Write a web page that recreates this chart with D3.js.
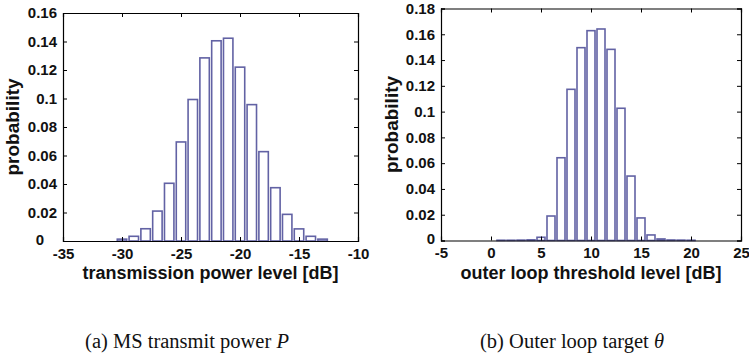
<!DOCTYPE html>
<html>
<head>
<meta charset="utf-8">
<script src="https://cdn.jsdelivr.net/npm/d3@7"></script>
<style>
body { margin: 0; background: #fff; }
svg text { fill: #111; }
</style>
</head>
<body>
<svg id="fig" width="749" height="355"></svg>
<script>
// left panel: transmission power level [dB]
var powerLevels = [-30,-29,-28,-27,-26,-25,-24,-23,-22,-21,-20,-19,-18,-17,-16,-15,-14,-13];
var powerProb = [0.0013,0.0033,0.0086,0.021,0.0405,0.0695,0.0993,0.1285,0.1405,0.1423,0.1220,0.0957,0.0627,0.0374,0.0187,0.0085,0.0033,0.0013];
var powerXTicks = [-35,-30,-25,-20,-15,-10];
var powerYTicks = [0,0.02,0.04,0.06,0.08,0.1,0.12,0.14,0.16];

// right panel: outer loop threshold level [dB]
var targetLevels = [1,2,3,4,5,6,7,8,9,10,11,12,13,14,15,16,17,18,19,20];
var targetProb = [0.0002,0.0002,0.0003,0.0005,0.0025,0.019,0.0642,0.1173,0.1496,0.1628,0.1641,0.1483,0.1026,0.0500,0.0175,0.0043,0.0012,0.0004,0.0003,0.0002];
var targetXTicks = [-5,0,5,10,15,20,25];
var targetYTicks = [0,0.02,0.04,0.06,0.08,0.1,0.12,0.14,0.16,0.18];

var svg = d3.select("#fig");
var barColor = "#6262a4";
var sans = "Liberation Sans, Arial, sans-serif";

function panel(opt) {
  var x = d3.scaleLinear().domain(opt.xDomain).range([opt.left, opt.right]);
  var y = d3.scaleLinear().domain(opt.yDomain).range([opt.bottom, opt.top]);
  var g = svg.append("g");

  // bars (MATLAB style, width 0.8)
  g.selectAll("rect.bar").data(opt.xs).enter().append("rect")
    .attr("class", "bar")
    .attr("x", function(d) { return x(d - 0.4); })
    .attr("width", x(0.8) - x(0))
    .attr("y", function(d, i) { return y(opt.ys[i]); })
    .attr("height", function(d, i) { return y(0) - y(opt.ys[i]); })
    .attr("fill", "#fff")
    .attr("stroke", barColor)
    .attr("stroke-width", 1.6);

  var fmt = function(d) { return String(d); };

  // axes with inward ticks, mirrored on top/right
  var xb = g.append("g").attr("transform", "translate(0," + opt.bottom + ")")
    .call(d3.axisBottom(x).tickValues(opt.xTicks).tickSize(-4).tickPadding(7).tickFormat(fmt));
  var xt = g.append("g").attr("transform", "translate(0," + opt.top + ")")
    .call(d3.axisTop(x).tickValues(opt.xTicks).tickSize(-4).tickFormat(""));
  var yl = g.append("g").attr("transform", "translate(" + opt.left + ",0)")
    .call(d3.axisLeft(y).tickValues(opt.yTicks).tickSize(-4).tickPadding(6).tickFormat(fmt));
  var yr = g.append("g").attr("transform", "translate(" + opt.right + ",0)")
    .call(d3.axisRight(y).tickValues(opt.yTicks).tickSize(-4).tickFormat(""));

  [xb, xt, yl, yr].forEach(function(a) {
    a.select(".domain").attr("stroke", "#000").attr("stroke-width", 1.2);
    a.selectAll(".tick line").attr("stroke", "#000");
    a.selectAll("text").attr("font-family", sans)
      .attr("font-weight", "bold").attr("font-size", 15).attr("fill", "#111");
  });
  // zero label sits a little left / up of the corner, as in the original
  yl.selectAll(".tick").filter(function(d) { return d === 0; }).select("text")
    .attr("dx", opt.zeroDx).attr("dy", "0.2em");

  g.append("text")
    .attr("x", (opt.left + opt.right) / 2).attr("y", opt.bottom + 38)
    .attr("text-anchor", "middle")
    .attr("font-family", sans)
    .attr("font-weight", "bold").attr("font-size", 18)
    .text(opt.xLabel);

  g.append("text")
    .attr("transform", "translate(" + opt.yLabelX + "," + ((opt.top + opt.bottom) / 2) + ") rotate(-90)")
    .attr("text-anchor", "middle")
    .attr("font-family", sans)
    .attr("font-weight", "bold").attr("font-size", 19)
    .text("probability");

  var cap = g.append("text")
    .attr("x", opt.capX).attr("y", 348)
    .attr("text-anchor", "middle")
    .attr("font-family", "Liberation Serif, Times New Roman, serif")
    .attr("font-size", 20.5);
  cap.append("tspan").text(opt.caption);
  cap.append("tspan").attr("font-style", "italic").text(opt.capSym);
}

panel({
  xs: powerLevels, ys: powerProb,
  xDomain: [-35, -10], yDomain: [0, 0.16],
  xTicks: powerXTicks, yTicks: powerYTicks,
  left: 63, right: 358, top: 13, bottom: 241,
  xLabel: "transmission power level [dB]", yLabelX: 19,
  caption: "(a) MS transmit power ", capSym: "P", capX: 187, zeroDx: -13
});

panel({
  xs: targetLevels, ys: targetProb,
  xDomain: [-5, 25], yDomain: [0, 0.18],
  xTicks: targetXTicks, yTicks: targetYTicks,
  left: 441, right: 741, top: 8.5, bottom: 240.5,
  xLabel: "outer loop threshold level [dB]", yLabelX: 398,
  caption: "(b) Outer loop target ", capSym: "\u03B8", capX: 572, zeroDx: 0
});
</script>
</body>
</html>
